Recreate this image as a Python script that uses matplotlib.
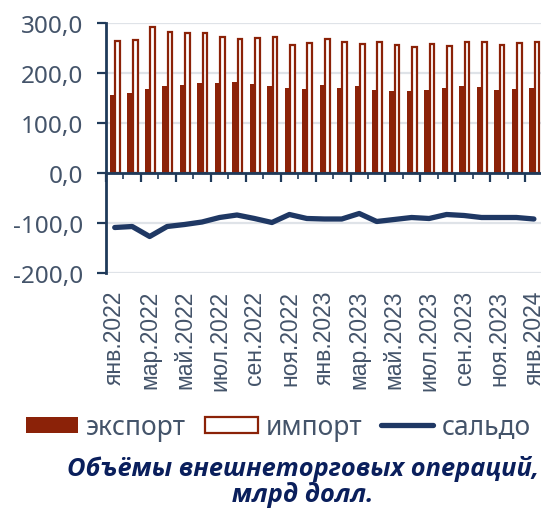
import numpy as np
import matplotlib.pyplot as plt
from matplotlib.ticker import FuncFormatter, MultipleLocator, FixedLocator

# Monthly foreign trade, bn USD (Jan 2022 - Jan 2024)
months = ['янв.2022', 'фев.2022', 'мар.2022', 'апр.2022', 'май.2022', 'июн.2022',
          'июл.2022', 'авг.2022', 'сен.2022', 'окт.2022', 'ноя.2022', 'дек.2022',
          'янв.2023', 'фев.2023', 'мар.2023', 'апр.2023', 'май.2023', 'июн.2023',
          'июл.2023', 'авг.2023', 'сен.2023', 'окт.2023', 'ноя.2023', 'дек.2023',
          'янв.2024']
export = [157, 160, 169, 174, 177, 180, 181, 182, 179, 175, 171, 168,
          177, 171, 175, 166, 164, 164, 167, 171, 175, 172, 167, 169, 171]
imports = [264, 266, 292, 282, 281, 280, 273, 269, 271, 273, 257, 261,
           268, 262, 258, 263, 257, 252, 259, 255, 262, 263, 257, 260, 263]
saldo = [-109, -107, -127, -107, -103, -98, -89, -84, -91, -99, -83, -91,
         -92, -92, -81, -97, -93, -89, -91, -83, -85, -89, -89, -89, -92]

red = '#8b2208'
navy = '#1f3864'
axis_col = '#1f3a5a'
label_col = '#44546a'
grid_col = '#dfe3e8'

fig = plt.figure(figsize=(5.41, 5.10), dpi=100)
ax = fig.add_axes([106 / 541, 1 - 274 / 510, 1 - 106 / 541 + 0.003, 250 / 510])

x = np.arange(len(months))
b1 = ax.bar(x - 0.10, export, width=0.34, color=red, zorder=3)
b2 = ax.bar(x + 0.17, imports, width=0.27, facecolor='white', edgecolor=red,
            linewidth=1.6, zorder=4)
l1, = ax.plot(x, saldo, color=navy, linewidth=3.8, solid_capstyle='round',
              solid_joinstyle='round', zorder=5)

ax.set_xlim(-0.5, len(months) - 0.5)
ax.set_ylim(-200, 300)
ax.yaxis.set_major_locator(MultipleLocator(100))
ax.yaxis.set_major_formatter(FuncFormatter(lambda v, p: f'{v:.1f}'.replace('.', ',')))
ax.grid(axis='y', color=grid_col, linewidth=1.6, zorder=0)
ax.set_axisbelow(True)

for s in ['top', 'right']:
    ax.spines[s].set_visible(False)
ax.spines['bottom'].set_position(('data', 0))
ax.spines['bottom'].set_color(axis_col)
ax.spines['bottom'].set_linewidth(2)
ax.spines['bottom'].set_zorder(6)
ax.spines['left'].set_color(axis_col)
ax.spines['left'].set_linewidth(2)

ax.tick_params(axis='y', colors=axis_col, length=6.5, width=1.6, pad=10,
               labelsize=17.5, labelcolor=label_col)
for t in ax.get_yticklabels():
    t.set_family('Noto Sans')

# ticks between categories on the zero line
ax.xaxis.set_major_locator(FixedLocator(np.arange(-0.5, len(months), 2)))
ax.xaxis.set_minor_locator(FixedLocator(np.arange(0.5, len(months), 2)))
ax.tick_params(axis='x', which='major', length=6.5, width=1.6, colors=axis_col,
               labelbottom=False)
ax.tick_params(axis='x', which='minor', length=4.5, width=1.2, colors=axis_col,
               labelbottom=False)

# month labels at the bottom of the plot
sec = ax.secondary_xaxis(0.0)
sec.set_xticks(x[::2], months[::2], rotation=90)
sec.tick_params(length=0, pad=12, labelsize=16.5, labelcolor=label_col)
sec.spines['bottom'].set_visible(False)
for t in sec.get_xticklabels():
    t.set_family('Liberation Sans')

fig.legend([b1, b2, l1], ['экспорт', 'импорт', 'сальдо'], loc='center',
           bbox_to_anchor=(278 / 541, 1 - 428 / 510), ncol=3, frameon=False,
           handlelength=2.0, handleheight=0.55, handletextpad=0.3,
           columnspacing=0.7, borderpad=0,
           prop={'family': 'Noto Sans', 'size': 19}, labelcolor=label_col)

fig.text(303 / 541, 1 - 482 / 510, 'Объёмы внешнеторговых операций,\nмлрд долл.',
         ha='center', va='center', fontsize=18.3, fontweight='bold', style='italic',
         color='#0a1f5c', family=['Open Sans', 'DejaVu Sans'], linespacing=1.0)

fig.savefig('out.png', dpi=100)
